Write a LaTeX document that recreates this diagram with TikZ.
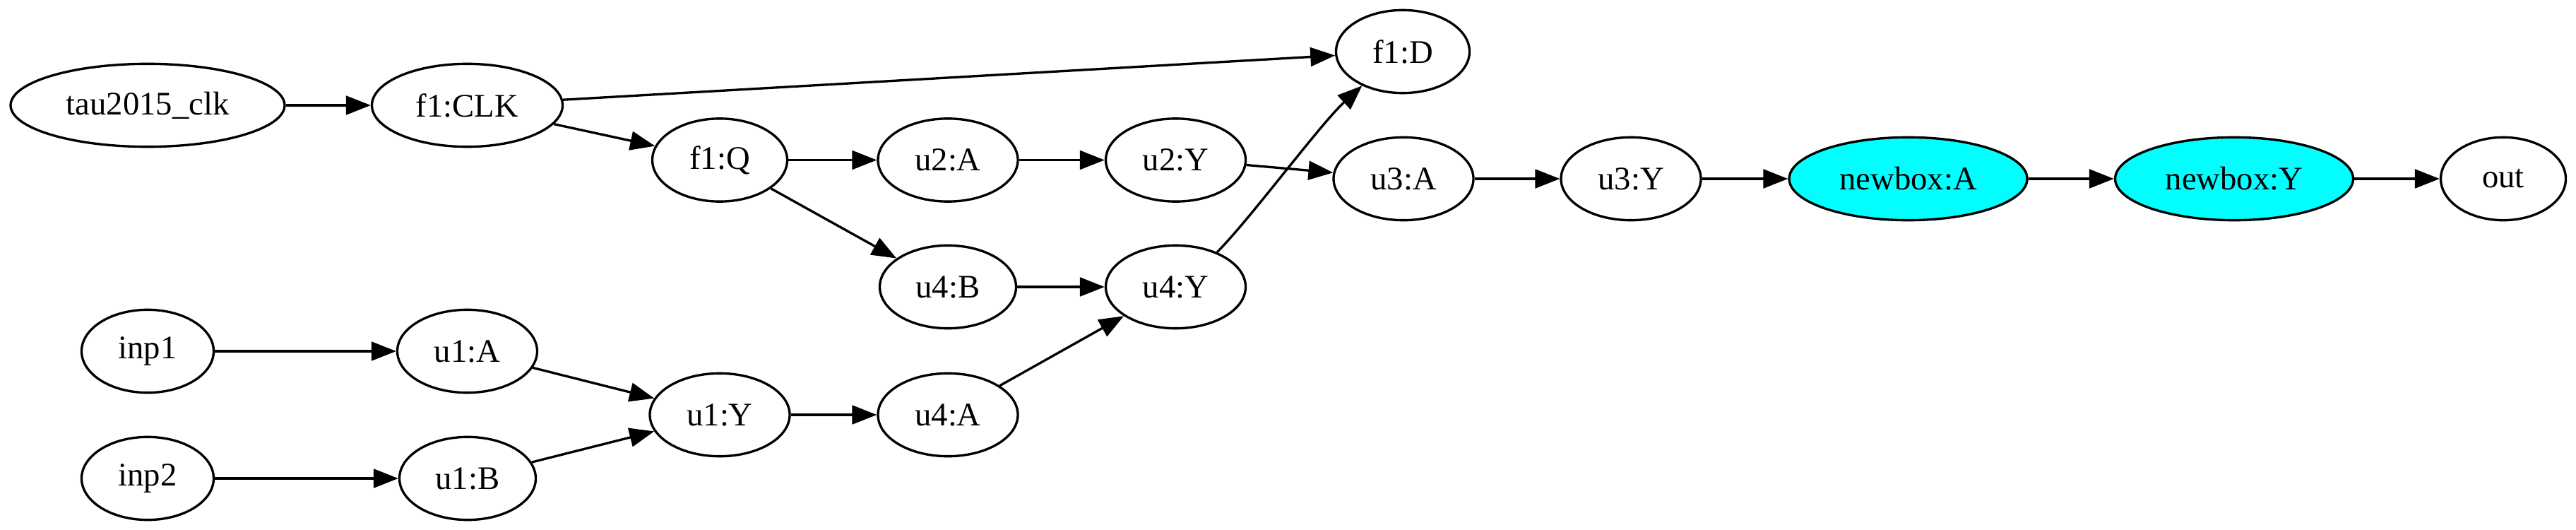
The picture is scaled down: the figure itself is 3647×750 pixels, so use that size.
\documentclass[tikz,border=0pt]{standalone}
\usepackage{fontspec}
\setmainfont{Liberation Serif}
\usetikzlibrary{shapes.geometric,arrows.meta,calc}
\definecolor{gvcyan}{RGB}{0,255,255}
\begin{document}
\begin{tikzpicture}[x=0.3pt,y=-0.3pt,
  gnode/.style={draw,ellipse,line width=1pt,inner sep=0pt,minimum height=35.2pt,minimum width=#1,font=\fontsize{14}{16}\selectfont},
  gnode/.default=60pt,
  hl/.style={fill=gvcyan},
  edge/.style={draw,line width=1pt,-{Triangle[length=10.5pt,width=8pt]}}]
\useasboundingbox (0,0) rectangle (3647,750);
\node[gnode=116.4pt] (tau) at (209,149) {tau2015\_clk};
\node[gnode=81pt] (f1CLK) at (661.5,149) {f1:CLK};
\node[gnode=57.3pt] (f1Q) at (1019,226.5) {f1:Q};
\node[gnode=56.7pt] (f1D) at (1986,73) {f1:D};
\node[gnode=59.4pt] (u2A) at (1342,226.5) {u2:A};
\node[gnode=59.4pt] (u2Y) at (1664.5,226.5) {u2:Y};
\node[gnode=59.4pt] (u3A) at (1987,253) {u3:A};
\node[gnode=59.4pt] (u3Y) at (2309,253) {u3:Y};
\node[gnode=101.1pt,hl] (nbA) at (2701.5,253) {newbox:A};
\node[gnode=101.1pt,hl] (nbY) at (3163,253) {newbox:Y};
\node[gnode=53.1pt] (out) at (3544,253) {out};
\node[gnode=57.9pt] (u4B) at (1342,406) {u4:B};
\node[gnode=59.4pt] (u4Y) at (1664.5,406) {u4:Y};
\node[gnode=56.1pt] (inp1) at (209,497) {inp1};
\node[gnode=59.4pt] (u1A) at (661.5,497) {u1:A};
\node[gnode=56.1pt] (inp2) at (209,677) {inp2};
\node[gnode=57.9pt] (u1B) at (662,677) {u1:B};
\node[gnode=59.4pt] (u1Y) at (1019,587) {u1:Y};
\node[gnode=59.4pt] (u4A) at (1342,587) {u4:A};
\path[edge] (tau) -- (f1CLK);
\path[edge] (f1CLK) -- (f1D);
\path[edge] (f1CLK) -- (f1Q);
\path[edge] (f1Q) -- (u2A);
\path[edge] (f1Q) -- (u4B);
\path[edge] (u2A) -- (u2Y);
\path[edge] (u2Y.-4) -- (u3A.175);
\path[edge] (u4B) -- (u4Y);
\path[edge] (u4Y.40) .. controls ($(u4Y.40)+(47,-47)$) and ($(f1D.220)+(-60,55)$) .. (f1D.220);
\path[edge] (inp1) -- (u1A);
\path[edge] (inp2) -- (u1B);
\path[edge] (u1A) -- (u1Y);
\path[edge] (u1B) -- (u1Y);
\path[edge] (u1Y) -- (u4A);
\path[edge] (u4A) -- (u4Y);
\path[edge] (u3A) -- (u3Y);
\path[edge] (u3Y) -- (nbA);
\path[edge] (nbA) -- (nbY);
\path[edge] (nbY) -- (out);
\end{tikzpicture}
\end{document}
